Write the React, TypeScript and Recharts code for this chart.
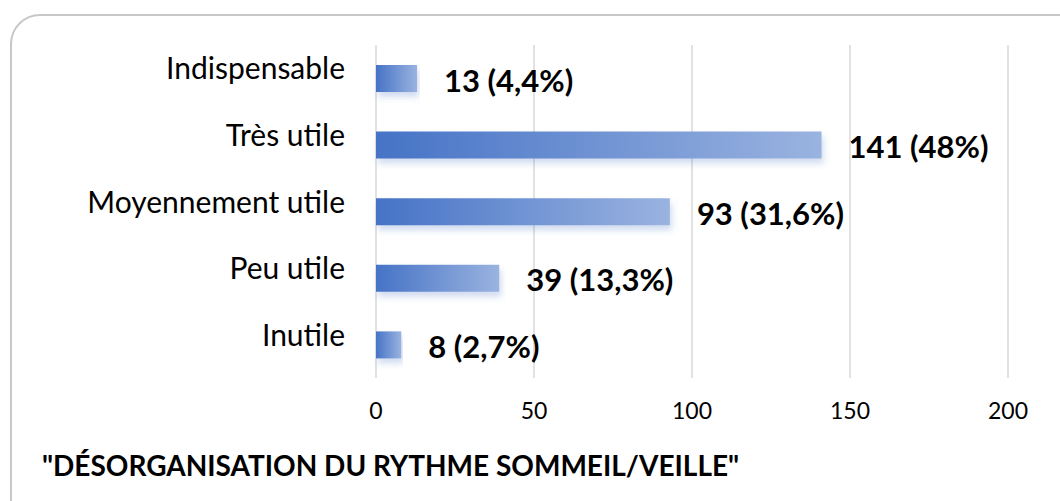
import React from 'react';
import { BarChart, Bar, XAxis, YAxis, CartesianGrid, LabelList } from 'recharts';

const categories = ['Indispensable', 'Très utile', 'Moyennement utile', 'Peu utile', 'Inutile'];
const counts = [13, 141, 93, 39, 8];
const percents = ['4,4%', '48%', '31,6%', '13,3%', '2,7%'];
const xTicks = [0, 50, 100, 150, 200];

const data = categories.map((name, i) => ({
  name,
  value: counts[i],
  label: `${counts[i]} (${percents[i]})`,
}));

const FONT = 'Lato, "Open Sans", sans-serif';

const renderLabel = (props: any) => {
  const { x, y, width, height, value } = props;
  return (
    <text
      x={x + width + 27}
      y={y + height / 2 + 1}
      dominantBaseline="central"
      fontFamily={FONT}
      fontWeight={700}
      fontSize={31}
      fill="#000"
    >
      {value}
    </text>
  );
};

const CategoryTick = (props: any) => {
  const { x, y, payload } = props;
  return (
    <text
      x={x}
      y={y - 11}
      textAnchor="end"
      dominantBaseline="central"
      fontFamily={FONT}
      fontSize={30}
      fill="#000"
    >
      {payload.value}
    </text>
  );
};

export default function App() {
  return (
    <div style={{ position: 'absolute', left: 0, top: 0, width: 1060, height: 501, background: '#fff', overflow: 'hidden' }}>
      <div
        style={{
          position: 'absolute',
          left: 10,
          top: 14,
          width: 1080,
          height: 520,
          border: '2px solid #c8c8c8',
          borderRadius: 30,
          boxSizing: 'border-box',
        }}
      />
      <BarChart
        width={1060}
        height={501}
        data={data}
        layout="vertical"
        margin={{ top: 45, right: 52, bottom: 93, left: 10 }}
        barSize={27}
      >
        <defs>
          <linearGradient id="barGrad" x1="0" y1="0" x2="1" y2="0">
            <stop offset="0%" stopColor="#4673c6" />
            <stop offset="100%" stopColor="#9ab3e0" />
          </linearGradient>
          <filter id="barShadow" x="-5%" y="-20%" width="110%" height="160%">
            <feDropShadow dx="2" dy="5" stdDeviation="3" floodColor="#4472c4" floodOpacity="0.25" />
          </filter>
        </defs>
        <CartesianGrid horizontal={false} stroke="#d9d9d9" strokeWidth={1.5} />
        <XAxis
          type="number"
          domain={[0, 200]}
          ticks={xTicks}
          axisLine={false}
          tickLine={false}
          tickMargin={19}
          tick={{ fill: '#000', fontSize: 23, fontFamily: FONT }}
        />
        <YAxis
          type="category"
          dataKey="name"
          width={366}
          axisLine={false}
          tickLine={false}
          tickSize={0}
          tickMargin={31}
          tick={<CategoryTick />}
        />
        <Bar dataKey="value" fill="url(#barGrad)" filter="url(#barShadow)" isAnimationActive={false}>
          <LabelList dataKey="label" content={renderLabel} />
        </Bar>
      </BarChart>
      <div
        style={{
          position: 'absolute',
          left: 42,
          top: 448,
          fontFamily: FONT,
          fontWeight: 700,
          fontSize: 28,
          color: '#000',
          whiteSpace: 'nowrap',
        }}
      >
        "DÉSORGANISATION DU RYTHME SOMMEIL/VEILLE"
      </div>
    </div>
  );
}
